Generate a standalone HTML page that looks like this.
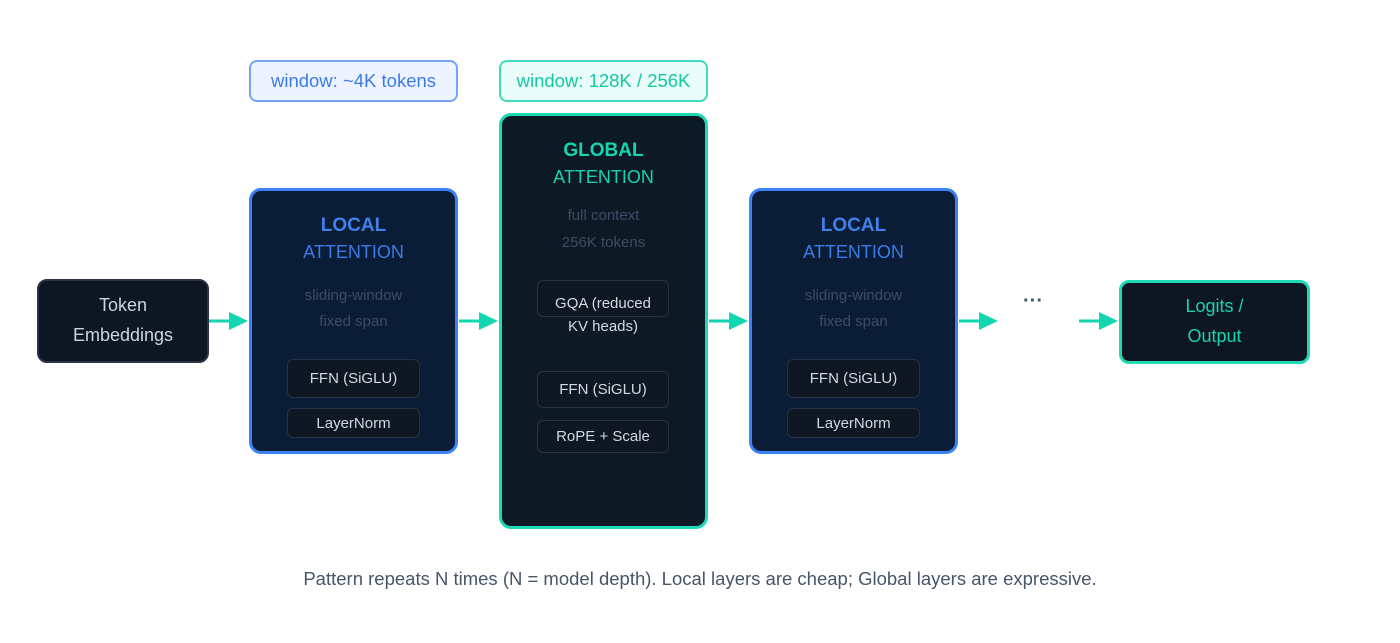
<!DOCTYPE html>
<html><head><meta charset="utf-8"><style>
body{margin:0;width:1400px;height:643px;background:#fff;position:relative;font-family:"Liberation Sans","DejaVu Sans",sans-serif;overflow:hidden}
.a{position:absolute;box-sizing:border-box}
.t{position:absolute;left:0;right:0;text-align:center;white-space:nowrap}
.lbl{border-radius:8px;font-size:18.5px;display:flex;align-items:center;justify-content:center}
.loc{background:#0b1d36;border:3px solid #3b82f6;border-radius:12px}
.glo{background:#0d1a26;border:3px solid #1fd8b4;border-radius:12px}
.sub{background:#0f1723;border:1px solid #253246;border-radius:6px;color:#d1d9e4;font-size:15px;display:flex;align-items:center;justify-content:center}
.dim{color:#3d4c63;font-size:15px}
</style></head><body>
<div class="a lbl" style="left:249px;top:60px;width:209px;height:42px;background:#eef4ff;border:2px solid #74a5f5;color:#3b7be8">window: ~4K tokens</div>
<div class="a lbl" style="left:499px;top:60px;width:209px;height:42px;background:#ebfdf8;border:2px solid #3ddcbc;color:#12c9a3">window: 128K / 256K</div>

<div class="a" style="left:37px;top:279px;width:172px;height:84px;background:#0f1623;border:2px solid #2a3446;border-radius:10px;color:#cbd5e1;font-size:18px">
<div class="t" style="top:14px">Token</div><div class="t" style="top:44px">Embeddings</div></div>

<div class="a loc" style="left:249px;top:188px;width:209px;height:266px">
<div class="t" style="top:24px;font-weight:bold;font-size:19px;color:#3f80ea">LOCAL</div>
<div class="t" style="top:51px;font-size:18px;color:#3b7be8">ATTENTION</div>
<div class="t dim" style="top:96px">sliding-window</div>
<div class="t dim" style="top:122px">fixed span</div>
</div>
<div class="a sub" style="left:287px;top:359px;width:133px;height:39px">FFN (SiGLU)</div>
<div class="a sub" style="left:287px;top:408px;width:133px;height:30px">LayerNorm</div>

<div class="a glo" style="left:499px;top:113px;width:209px;height:416px">
<div class="t" style="top:24px;font-weight:bold;font-size:19px;color:#17d4ad">GLOBAL</div>
<div class="t" style="top:51px;font-size:18px;color:#17d4ad">ATTENTION</div>
<div class="t dim" style="top:91px">full context</div>
<div class="t dim" style="top:118px">256K tokens</div>
</div>
<div class="a sub" style="left:537px;top:280px;width:132px;height:37px;align-items:flex-start;padding-top:11px;overflow:visible;line-height:23px;text-align:center">GQA (reduced<br>KV heads)</div>
<div class="a sub" style="left:537px;top:371px;width:132px;height:37px">FFN (SiGLU)</div>
<div class="a sub" style="left:537px;top:420px;width:132px;height:33px">RoPE + Scale</div>

<div class="a loc" style="left:749px;top:188px;width:209px;height:266px">
<div class="t" style="top:24px;font-weight:bold;font-size:19px;color:#3f80ea">LOCAL</div>
<div class="t" style="top:51px;font-size:18px;color:#3b7be8">ATTENTION</div>
<div class="t dim" style="top:96px">sliding-window</div>
<div class="t dim" style="top:122px">fixed span</div>
</div>
<div class="a sub" style="left:787px;top:359px;width:133px;height:39px">FFN (SiGLU)</div>
<div class="a sub" style="left:787px;top:408px;width:133px;height:30px">LayerNorm</div>

<div class="a" style="left:1010px;top:290px;width:46px;text-align:center;font-size:20px;color:#475569;font-weight:bold">···</div>

<div class="a" style="left:1119px;top:280px;width:191px;height:84px;background:#0f1623;border:3px solid #1fd8b4;border-radius:10px;color:#17d4ad;font-size:18px">
<div class="t" style="top:13px">Logits /</div><div class="t" style="top:43px">Output</div></div>

<svg class="a" style="left:0;top:0" width="1400" height="643">
<g fill="#12d6b0" stroke="#12d6b0" stroke-width="3">
<line x1="209" y1="321" x2="232" y2="321"/><polygon stroke="none" points="229,312 248,321 229,330"/>
<line x1="459" y1="321" x2="482" y2="321"/><polygon stroke="none" points="479,312 498,321 479,330"/>
<line x1="709" y1="321" x2="732" y2="321"/><polygon stroke="none" points="729,312 748,321 729,330"/>
<line x1="959" y1="321" x2="982" y2="321"/><polygon stroke="none" points="979,312 998,321 979,330"/>
<line x1="1079" y1="321" x2="1102" y2="321"/><polygon stroke="none" points="1099,312 1118,321 1099,330"/>
</g></svg>

<div class="a" style="left:0;top:568px;width:1400px;text-align:center;font-size:18.5px;color:#475569">Pattern repeats N times (N = model depth). Local layers are cheap; Global layers are expressive.</div>
</body></html>
